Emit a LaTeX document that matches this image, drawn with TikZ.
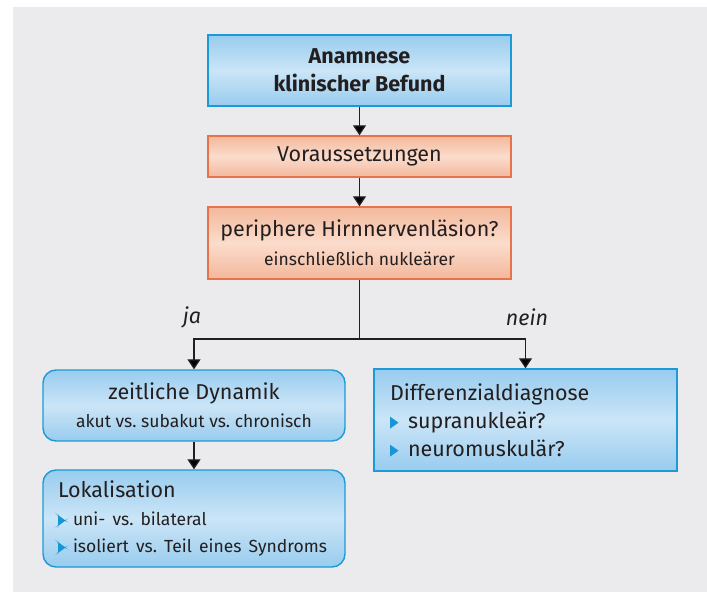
\documentclass[tikz,border=0pt]{standalone}
\usepackage{fontspec}
\setmainfont{Fira Sans}
\usetikzlibrary{arrows.meta}
\frenchspacing
\definecolor{bggray}{RGB}{235,235,237}
\definecolor{bluetop}{RGB}{152,204,238}
\definecolor{bluemid}{RGB}{203,229,247}
\definecolor{blueline}{RGB}{27,154,215}
\definecolor{bulletblue}{RGB}{22,150,215}
\definecolor{orangetop}{RGB}{243,184,155}
\definecolor{orangemid}{RGB}{251,220,204}
\definecolor{orangeline}{RGB}{232,115,74}
\definecolor{txt}{RGB}{35,31,32}
\definecolor{conncol}{RGB}{35,31,32}
\newcommand{\bigbul}{\tikz[baseline=0pt]\fill[bulletblue] (0pt,-0.5pt) -- (0pt,11.5pt) -- (8.5pt,5.5pt) -- cycle;\hspace{9.5pt}}
\newcommand{\smallbul}{\tikz[baseline=0pt]\fill[bulletblue] (0pt,-0.5pt) -- (0pt,10.5pt) -- (7.5pt,5pt) -- cycle;\hspace{7.5pt}}
\newcommand{\subsz}{\fontsize{17.5}{28}\selectfont}
\tikzset{
  bluebox/.style={draw=blueline, line width=1.4pt, top color=bluetop, bottom color=bluetop, middle color=bluemid, text=txt, inner sep=0pt},
  orangebox/.style={draw=orangeline, line width=1.4pt, top color=orangetop, bottom color=orangetop, middle color=orangemid, text=txt, inner sep=0pt},
  mainfont/.style={font=\fontsize{21.5}{28}\selectfont},
  conn/.style={draw=conncol, line width=1.3pt},
  arr/.style={conn, -{Triangle[width=13pt,length=10pt]}},
  lbl/.style={font=\fontsize{21.5}{21.5}\selectfont\itshape, text=txt, inner sep=0pt}
}
\begin{document}
\begin{tikzpicture}[x=1pt,y=-1pt]
\useasboundingbox (0,0) rectangle (707,592);
\fill[bggray] (13,7) rectangle (707,592);

\node[bluebox, minimum width=303pt, minimum height=71pt, align=center, font=\fontsize{21.5}{28}\selectfont\bfseries] (top) at (359.5,70.5) {Anamnese\\klinischer Befund};

\node[orangebox, minimum width=303pt, minimum height=41pt, mainfont] (vor) at (359.5,156.5) {Voraussetzungen};

\node[orangebox, minimum width=303pt, minimum height=72pt, align=center, mainfont] (per) at (359.5,243) {periphere Hirnnervenläsion?\\[1pt]{\subsz einschließlich nukleärer}};

\node[bluebox, rounded corners=13pt, minimum width=302pt, minimum height=71pt, align=center, mainfont] (zeit) at (194,405.5) {zeitliche Dynamik\\{\subsz akut\ vs.\ subakut\ vs.\ chronisch}};

\node[bluebox, rounded corners=13pt, minimum width=302pt, minimum height=97pt, align=left, text width=272pt, mainfont] (lok) at (194,518.5) {Lokalisation\\\mbox{\subsz\smallbul uni-\ vs.\ bilateral}\\[-1pt]\mbox{\subsz\smallbul isoliert\ vs.\ Teil\ eines\ Syndroms}};

\node[bluebox, minimum width=303pt, minimum height=102pt, align=left, text width=271pt, mainfont] (diff) at (525.5,420) {Differenzialdiagnose\\\mbox{\bigbul supranukleär?}\\\mbox{\bigbul neuromuskulär?}};

\coordinate (j) at (359.5,339);

\draw[arr] (top) -- (vor);
\draw[arr] (vor) -- (per);
\draw[conn] (per.south) -- (j);
\draw[arr] (j) -| (zeit.north);
\draw[arr] (j) -| (diff.north);
\draw[arr] (zeit) -- (lok);

\node[lbl] (ja) at (192,317) {ja};
\node[lbl] (nein) at (527,317) {nein};
\end{tikzpicture}
\end{document}
